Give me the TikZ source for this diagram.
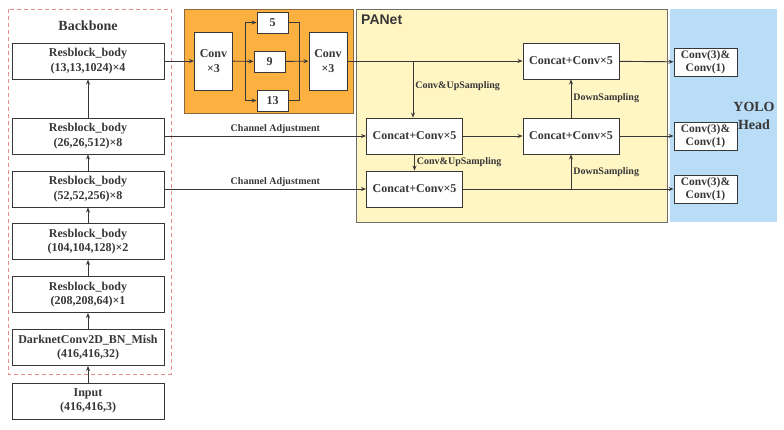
\documentclass[tikz,border=0pt]{standalone}
\usepackage{fontspec}
\setmainfont{Liberation Serif}
\newfontfamily\panetfont{Liberation Sans}
\usepackage{tikz}
\newcommand{\blockwidth}{152pt}
\newcommand{\blockheight}{36pt}
\usetikzlibrary{arrows.meta,calc,positioning}
\pgfdeclarelayer{bg}
\pgfsetlayers{bg,main}
\definecolor{sppfill}{RGB}{251,176,64}
\definecolor{sppdraw}{RGB}{140,105,60}
\definecolor{panfill}{RGB}{255,246,196}
\definecolor{pandraw}{RGB}{110,110,110}
\definecolor{headfill}{RGB}{185,220,247}
\definecolor{dashred}{RGB}{232,140,140}
\definecolor{ink}{RGB}{55,55,55}
\tikzset{
  >={Stealth[length=5pt,width=4pt]},
  font=\fontsize{12}{14.5}\selectfont\bfseries,
  rect/.style={draw=ink,fill=white,line width=0.9pt,text=ink,align=center,inner sep=1pt},
  block/.style={rect,minimum width=\blockwidth,minimum height=\blockheight},
  convbox/.style={rect,minimum width=38pt,minimum height=58pt},
  poolbox/.style={rect,minimum width=31pt,minimum height=21pt},
  concat/.style={rect,minimum width=96pt,minimum height=36pt},
  headbox/.style={rect,minimum width=63pt,minimum height=28pt,font=\fontsize{11.5}{13}\selectfont\bfseries},
  line/.style={draw=ink,->,line width=0.9pt},
  plain/.style={draw=ink,line width=0.9pt},
  lbl/.style={font=\fontsize{10}{11}\selectfont\bfseries,text=ink,inner sep=2pt},
  title/.style={font=\fontsize{14}{18}\selectfont\bfseries,text=ink,align=center,inner sep=0}
}
\begin{document}
\begin{tikzpicture}[x=1pt,y=-1pt]
    \useasboundingbox (0,0) rectangle (784,429);

    \begin{pgfonlayer}{bg}
      \path [draw=dashred,line width=0.8pt,dash pattern=on 4pt off 3pt] (8,9) rectangle (171,374);
      \path [fill=sppfill,draw=sppdraw,line width=0.8pt] (184,9) rectangle (353,113);
      \path [fill=panfill,draw=pandraw,line width=0.8pt] (356,9) rectangle (667,222);
      \path [fill=headfill] (670,9) rectangle (777,222);
    \end{pgfonlayer}

    \node (backbonetitle) [title] at (88,26) {Backbone};
    \node (panettitle) [title,anchor=west,font=\fontsize{14}{18}\selectfont\panetfont\bfseries] at (361,20) {PANet};
    \node (headtitle) [title] at (754,116) {YOLO\\Head};

    % backbone
    \node (rb1) [block] at (88,61) {Resblock\_body\\(13,13,1024)×4};
    \node (rb2) [block] at (88,136) {Resblock\_body\\(26,26,512)×8};
    \node (rb3) [block] at (88,189) {Resblock\_body\\(52,52,256)×8};
    \node (rb4) [block] at (88,241.5) {Resblock\_body\\(104,104,128)×2};
    \node (rb5) [block] at (88,294.5) {Resblock\_body\\(208,208,64)×1};
    \node (dark) [block] at (88,347.5) {DarknetConv2D\_BN\_Mish\\(416,416,32)};
    \node (input) [block] at (88,401) {Input\\(416,416,3)};

    % spp
    \node (conv1) [convbox] at (213.5,61) {Conv\\×3};
    \node (pool5) [poolbox] at (272.5,22.5) {5};
    \node (pool9) [poolbox] at (269.5,61.5) {9};
    \node (pool13) [poolbox] at (272.5,100.5) {13};
    \node (conv2) [convbox] at (328,61) {Conv\\×3};
    \coordinate (split) at (245,61);
    \coordinate (merge) at (299,61);

    % panet
    \node (c1) [concat] at (571,61) {Concat+Conv×5};
    \node (c2) [concat] at (571,136) {Concat+Conv×5};
    \node (c3) [concat] at (414.5,136) {Concat+Conv×5};
    \node (c4) [concat] at (414.5,189) {Concat+Conv×5};
    \coordinate (up1) at (413,61);
    \coordinate (down1) at (571,189);

    % yolo head
    \node (h1) [headbox] at (705.5,62) {Conv(3)\&\\Conv(1)};
    \node (h2) [headbox] at (705.5,136) {Conv(3)\&\\Conv(1)};
    \node (h3) [headbox] at (705.5,189) {Conv(3)\&\\Conv(1)};

    \path [line] (input) -- (dark);
    \path [line] (dark) -- (rb5);
    \path [line] (rb5) -- (rb4);
    \path [line] (rb4) -- (rb3);
    \path [line] (rb3) -- (rb2);
    \path [line] (rb2) -- (rb1);

    \path [line] (rb1) -- (conv1);
    \path [line] (conv1) -- (pool9);
    \path [line] (split) |- (pool5);
    \path [line] (split) |- (pool13);
    \path [plain] (pool5) -| (merge);
    \path [plain] (pool13) -| (merge);
    \path [line] (pool9) -- (conv2);
    \path [line] (conv2) -- (c1);

    \path [line] (up1) -- (up1 |- c3.north) node[lbl,right,pos=0.45] {Conv\&UpSampling};
    \path [line] (rb2) -- (c3) node[lbl,above,pos=0.55] {Channel Adjustment};
    \path [line] (rb3) -- (c4) node[lbl,above,pos=0.55] {Channel Adjustment};
    \path [line] (c3) -- (c4) node[lbl,right,midway] {Conv\&UpSampling};
    \path [line] (c3) -- (c2);
    \path [line] (down1) -- (c2) node[lbl,right,midway] {DownSampling};
    \path [line] (c2) -- (c1) node[lbl,right,midway] {DownSampling};

    \path [line] (c1) -- (h1);
    \path [line] (c2) -- (h2);
    \path [line] (c4) -- (h3);
\end{tikzpicture}
\end{document}
